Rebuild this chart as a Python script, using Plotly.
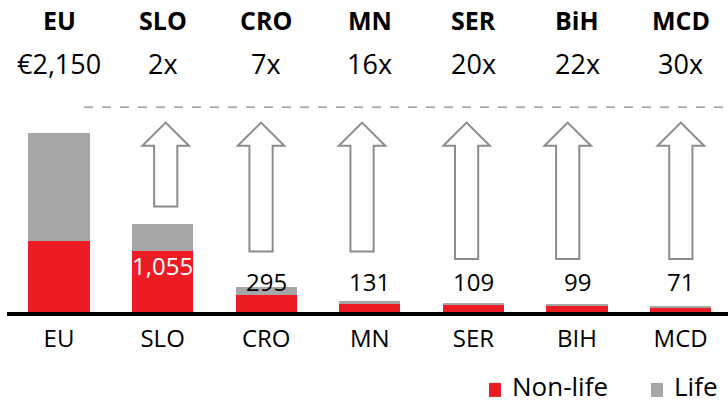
import plotly.graph_objects as go

# ---- data ----
categories = ["EU", "SLO", "CRO", "MN", "SER", "BIH", "MCD"]
header_labels = ["EU", "SLO", "CRO", "MN", "SER", "BiH", "MCD"]
multipliers = ["€2,150", "2x", "7x", "16x", "20x", "22x", "30x"]
non_life = [856, 728, 199, 108, 79, 79, 60]
life = [1294, 327, 96, 23, 30, 20, 11]
totals = [2150, 1055, 295, 131, 109, 99, 71]

RED = "#ED1C24"
GRAY = "#A6A6A6"
FONT = "Open Sans"

FIG_W, FIG_H = 728, 404
LEFT = 7
BASE_PX = 312.3          # pixel row of baseline
UNITS_PER_PX = 12.01
PLOT_H = BASE_PX
YMAX = PLOT_H * UNITS_PER_PX

x = list(range(len(categories)))


def py_to_val(py):
    return (BASE_PX - py) * UNITS_PER_PX


def py_to_paper(py):
    return (BASE_PX - py) / PLOT_H


def px_to_xpaper(px):
    return (px - LEFT) / (FIG_W - LEFT)


fig = go.Figure()
fig.add_bar(x=x, y=non_life, name="Non-life", marker_color=RED, width=0.59,
            marker_line_width=0, showlegend=False)
fig.add_bar(x=x, y=life, name="Life", marker_color=GRAY, width=0.59,
            marker_line_width=0, showlegend=False)

shapes = []
annotations = []

# dashed reference line
shapes.append(dict(type="line", xref="paper", yref="y", x0=px_to_xpaper(84), x1=1.0,
                   y0=py_to_val(107.3), y1=py_to_val(107.3),
                   line=dict(color="#8A8A8A", width=1.3, dash="dash")))

# outline arrows (decoration) for SLO..MCD
arrow_offsets = [0.03, -0.05, -0.075, -0.066, -0.09, 0.002]
arrow_bottom_px = [206.7, 251.7, 251.7, 259.3, 259.3, 259.3]
yt = py_to_val(122.7)
yh = py_to_val(146)
hw, sw = 0.225, 0.112
for k, i in enumerate(range(1, 7)):
    cx = i + arrow_offsets[k]
    yb = py_to_val(arrow_bottom_px[k])
    path = (f"M{cx-sw},{yb} L{cx-sw},{yh} L{cx-hw},{yh} L{cx},{yt} "
            f"L{cx+hw},{yh} L{cx+sw},{yh} L{cx+sw},{yb} Z")
    shapes.append(dict(type="path", xref="x", yref="y", path=path,
                       fillcolor="white", line=dict(color="#8C8C8C", width=2)))

# headers
for i in x:
    annotations.append(dict(x=i, y=py_to_paper(20.5), xref="x", yref="paper",
                            text=f"<b>{header_labels[i]}</b>", showarrow=False,
                            font=dict(family=FONT, size=25, color="black"),
                            xanchor="center", yanchor="middle"))
    annotations.append(dict(x=i, y=py_to_paper(64), xref="x", yref="paper",
                            text=multipliers[i], showarrow=False,
                            font=dict(family=FONT, size=27, color="black"),
                            xanchor="center", yanchor="middle"))

# value labels
for i in range(1, 7):
    if i == 1:
        ypx, col = 266, "white"
    else:
        ypx, col = 281.5, "black"
    annotations.append(dict(x=i, y=py_to_paper(ypx), xref="x", yref="paper",
                            text=f"{totals[i]:,}", showarrow=False,
                            font=dict(family=FONT, size=24, color=col),
                            xanchor="center", yanchor="middle"))

# legend (manual)
shapes.append(dict(type="rect", xref="paper", yref="paper",
                   x0=px_to_xpaper(489), x1=px_to_xpaper(501),
                   y0=py_to_paper(397.3), y1=py_to_paper(383.3),
                   fillcolor=RED, line_width=0))
shapes.append(dict(type="rect", xref="paper", yref="paper",
                   x0=px_to_xpaper(651), x1=px_to_xpaper(663),
                   y0=py_to_paper(397.3), y1=py_to_paper(383.3),
                   fillcolor=GRAY, line_width=0))
leg_y = py_to_paper(386.5)
annotations.append(dict(x=px_to_xpaper(510), y=leg_y, xref="paper", yref="paper",
                        text="Non-life", showarrow=False, xanchor="left", yanchor="middle",
                        font=dict(family=FONT, size=26, color="black")))
annotations.append(dict(x=px_to_xpaper(672), y=leg_y, xref="paper", yref="paper",
                        text="Life", showarrow=False, xanchor="left", yanchor="middle",
                        font=dict(family=FONT, size=26, color="black")))

fig.update_layout(
    barmode="stack",
    width=FIG_W, height=FIG_H,
    margin=dict(l=LEFT, r=0, t=0, b=FIG_H - PLOT_H, pad=0),
    paper_bgcolor="white", plot_bgcolor="white",
    shapes=shapes, annotations=annotations,
    font=dict(family=FONT, size=24, color="black"),
    xaxis=dict(range=[(LEFT - 59) / 103.6, 6.457], tickmode="array", tickvals=x,
               ticktext=categories,
               showline=True, linecolor="black", linewidth=4, ticks="",
               ticklabelstandoff=2,
               showgrid=False, zeroline=False, fixedrange=True,
               tickfont=dict(family=FONT, size=24, color="black")),
    yaxis=dict(range=[0, YMAX], visible=False, showgrid=False, zeroline=False,
               fixedrange=True),
)

fig.write_html("out.html", config={"displayModeBar": False},
               post_script="document.body.style.margin='0';"
                           "document.body.style.overflow='hidden';")
